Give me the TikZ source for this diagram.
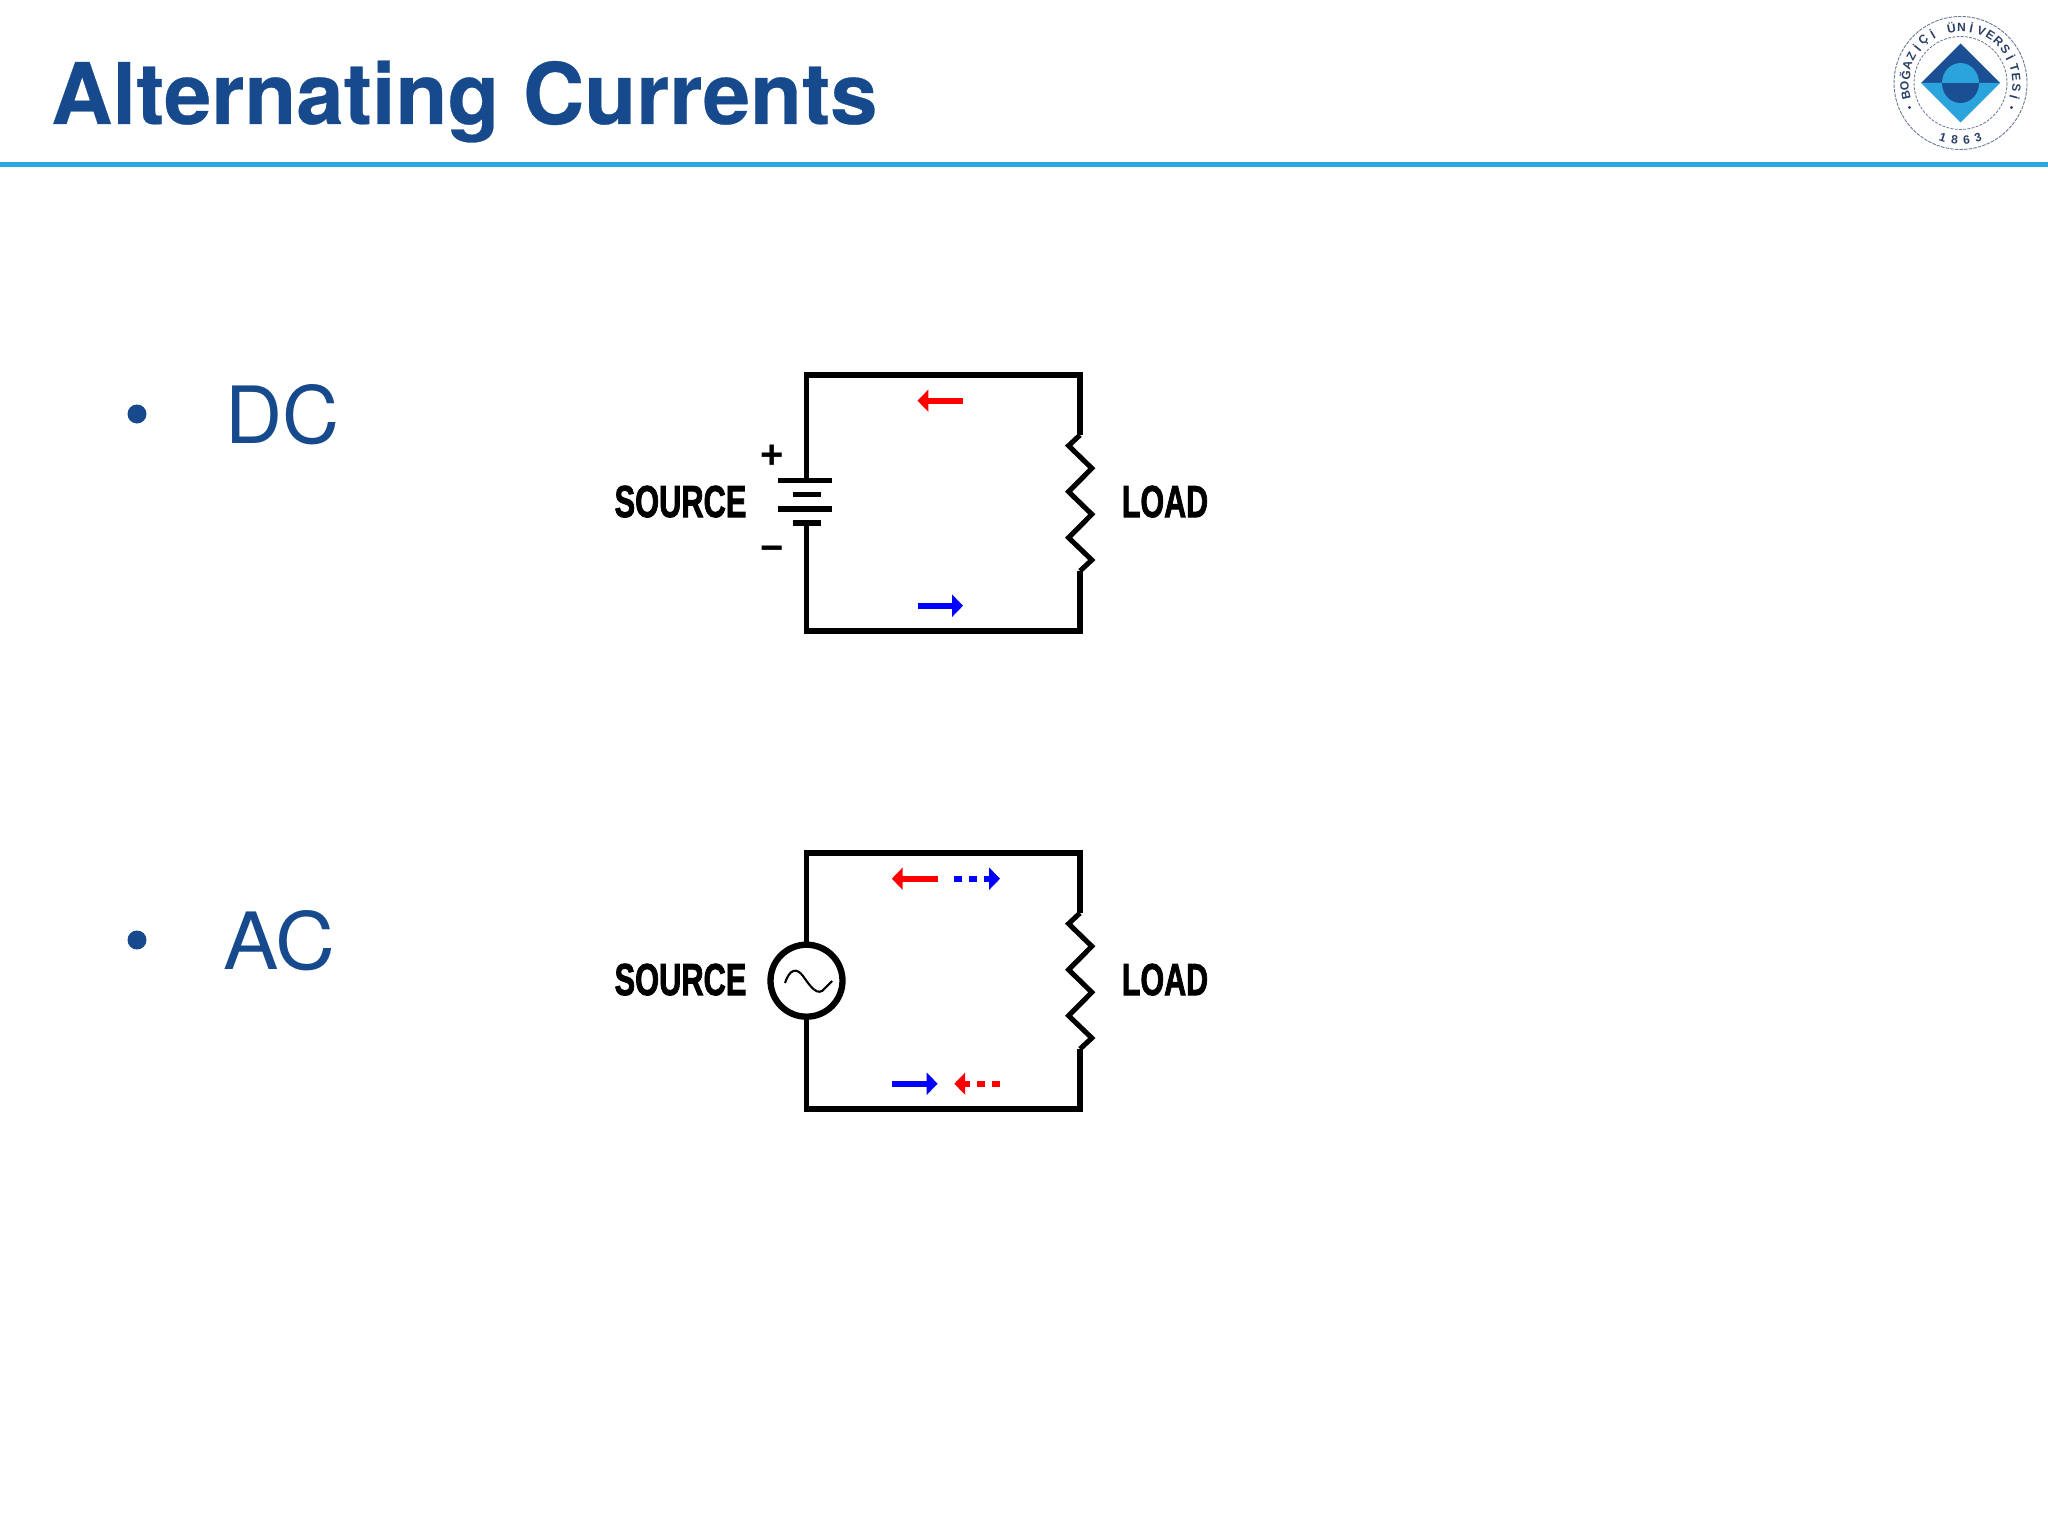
\documentclass[tikz,border=0pt]{standalone}
\usepackage{fontspec}
\usetikzlibrary{arrows.meta}
\setmainfont{TeX Gyre Heros}
\newfontfamily\labfont{Liberation Sans}
\newfontfamily\heavyfont[FakeBold=2.2]{Liberation Sans Bold}
\newfontfamily\titlefont[FakeBold=0.35]{TeX Gyre Heros Bold}
\definecolor{navy}{HTML}{174A8C}
\definecolor{rulecol}{HTML}{2CA6DE}
\definecolor{logolight}{HTML}{2BA3DC}
\definecolor{logodark}{HTML}{1B4F93}
\definecolor{logotxt}{HTML}{2A3F66}
\newcommand{\fsz}[1]{\pgfmathsetmacro\tmpfs{#1*1.4226}\fontsize{\tmpfs pt}{\tmpfs pt}\selectfont}
\tikzset{
  wire/.style={line width=8.2pt,line cap=butt,line join=miter},
  plate/.style={line width=7.6pt},
  zig/.style={line width=7.2pt,line join=miter,miter limit=4},
  flow/.style={line width=8.5pt,-{Triangle[length=15.5pt,width=31pt]}},
  flowdash/.style={flow,dash pattern=on 11.4pt off 10pt},
  lblload/.style={inner sep=0,font=\heavyfont\fsz{39},xscale=0.78,yscale=1.15},
  lblsrc/.style={inner sep=0,font=\heavyfont\fsz{39},xscale=0.79,yscale=1.15},
  sign/.style={inner sep=0,font=\labfont\bfseries\fsz{40}},
  bullet/.style={circle,fill=navy,inner sep=0,minimum size=19pt*1.4226},
  itemtxt/.style={inner sep=0,anchor=base west,text=navy,font=\fsz{79}},
  logolet/.style={inner sep=0,text=logotxt,font=\labfont\bfseries\fsz{12}},
}
\begin{document}
\begin{tikzpicture}[x=0.05cm,y=-0.05cm]
\useasboundingbox (0,0) rectangle (2048,1536);
% header
\node[inner sep=0,anchor=base west,text=navy,font=\titlefont\fsz{85}] (title) at (51,124) {Alternating Currents};
\coordinate (ruleL) at (0,164.5);
\coordinate (ruleR) at (2048,164.5);
\draw[rulecol,line width=6.5pt] (ruleL) -- (ruleR);
% logo
\coordinate (lc) at (1960.5,83);
\draw[logotxt!70,line width=1.3pt,dash pattern=on 5pt off 1.6pt] (lc) circle (66.5);
\draw[logotxt!70,line width=1.2pt,dash pattern=on 4pt off 2pt] (lc) circle (46.5);
\fill[logodark] (1921,83) -- (1960.5,43.5) -- (2000,83) -- cycle;
\fill[logolight] (1921,83) -- (1960.5,122.5) -- (2000,83) -- cycle;
\fill[logodark] (1942,83) arc[start angle=180,end angle=360,x radius=18.5,y radius=-20] -- cycle;
\fill[logolight] (1942,83) arc[start angle=180,end angle=0,x radius=18.5,y radius=-20] -- cycle;
\foreach \c [count=\i from 0] in {B,O,Ğ,A,Z,İ,Ç,İ,{ },Ü,N,İ,V,E,R,S,İ,T,E,S,İ}{
  \pgfmathsetmacro\ang{193-\i*10.4}
  \node[logolet,rotate=\ang-90] (let\i) at ({1960.5+56*cos(\ang)},{83-56*sin(\ang)}) {\c};
}
\foreach \c [count=\i from 0] in {1,8,6,3}{
  \pgfmathsetmacro\ang{252+\i*12}
  \node[logolet,rotate=\ang+90] (num\i) at ({1960.5+57*cos(\ang)},{83-57*sin(\ang)}) {\c};
}
\fill[logotxt] (1909.5,107.5) circle (1.7) (2011.5,107.5) circle (1.7);
% bullets
\node[bullet] (b1) at (137,414) {};
\node[bullet] (b2) at (137,940) {};
\node[itemtxt] (dc) at (225,443) {DC};
\node[itemtxt,xscale=1.05] (ac) at (223,969) {AC};
% DC circuit
\coordinate (tl) at (806.5,375);
\coordinate (tr) at (1080,375);
\coordinate (bl) at (806.5,631);
\coordinate (br) at (1080,631);
\coordinate (batT) at (806.5,480);
\coordinate (batB) at (806.5,523);
\draw[wire] (batT) -- (tl) -- (tr) -- (1080,435);
\draw[wire] (batB) -- (bl) -- (br) -- (1080,571);
\draw[zig] (1080,435) -- (1068.6,445.7) -- (1091.8,468.3) -- (1068.6,491.7) -- (1091.8,514.3) -- (1068.6,537.7) -- (1091.8,560) -- (1080,571);
\draw[plate] (778,480.3) -- (832,480.3);
\draw[plate] (792.6,494.7) -- (820.8,494.7);
\draw[plate] (778,509) -- (832,509);
\draw[plate] (792.6,523) -- (820.8,523);
\node[sign] (plus) at (772.6,457) {+};
\node[sign] (minus) at (772.6,553.5) {−};
\node[lblsrc] (src1) at (680.5,501.6) {SOURCE};
\node[lblload] (load1) at (1165,501.6) {LOAD};
\coordinate (r1a) at (963,400.7);
\coordinate (r1b) at (917.5,400.7);
\coordinate (b1a) at (917.5,605.7);
\coordinate (b1b) at (963,605.7);
\draw[flow,red] (r1a) -- (r1b);
\draw[flow,blue] (b1a) -- (b1b);
% AC circuit
\coordinate (tl2) at (806.5,853);
\coordinate (tr2) at (1080,853);
\coordinate (bl2) at (806.5,1109);
\coordinate (br2) at (1080,1109);
\node[circle,draw,line width=9pt,inner sep=0,minimum size=72*1.4226pt] (acsrc) at (806.5,980.7) {};
\draw[wire] (acsrc.north) -- (tl2) -- (tr2) -- (1080,913);
\draw[wire] (acsrc.south) -- (bl2) -- (br2) -- (1080,1049);
\draw[zig] (1080,913) -- (1068.6,923.7) -- (1091.8,946.3) -- (1068.6,969.7) -- (1091.8,992.3) -- (1068.6,1015.7) -- (1091.8,1038) -- (1080,1049);
\draw[line width=3pt] (785,983) .. controls (790,968) and (797,968) .. (803,976) .. controls (810,986) and (818,998) .. (825,988) -- (832,981);
\node[lblsrc] (src2) at (680.5,979.6) {SOURCE};
\node[lblload] (load2) at (1165,979.6) {LOAD};
\coordinate (r2a) at (937.6,878.7);
\coordinate (r2b) at (891.8,878.7);
\coordinate (b2a) at (954.3,878.7);
\coordinate (b2b) at (1000,878.7);
\coordinate (b3a) at (891.8,1083.7);
\coordinate (b3b) at (937.6,1083.7);
\coordinate (r3a) at (1000,1083.7);
\coordinate (r3b) at (954.3,1083.7);
\draw[flow,red] (r2a) -- (r2b);
\draw[flowdash,blue] (b2a) -- (b2b);
\draw[flow,blue] (b3a) -- (b3b);
\draw[flowdash,red] (r3a) -- (r3b);
\end{tikzpicture}
\end{document}
